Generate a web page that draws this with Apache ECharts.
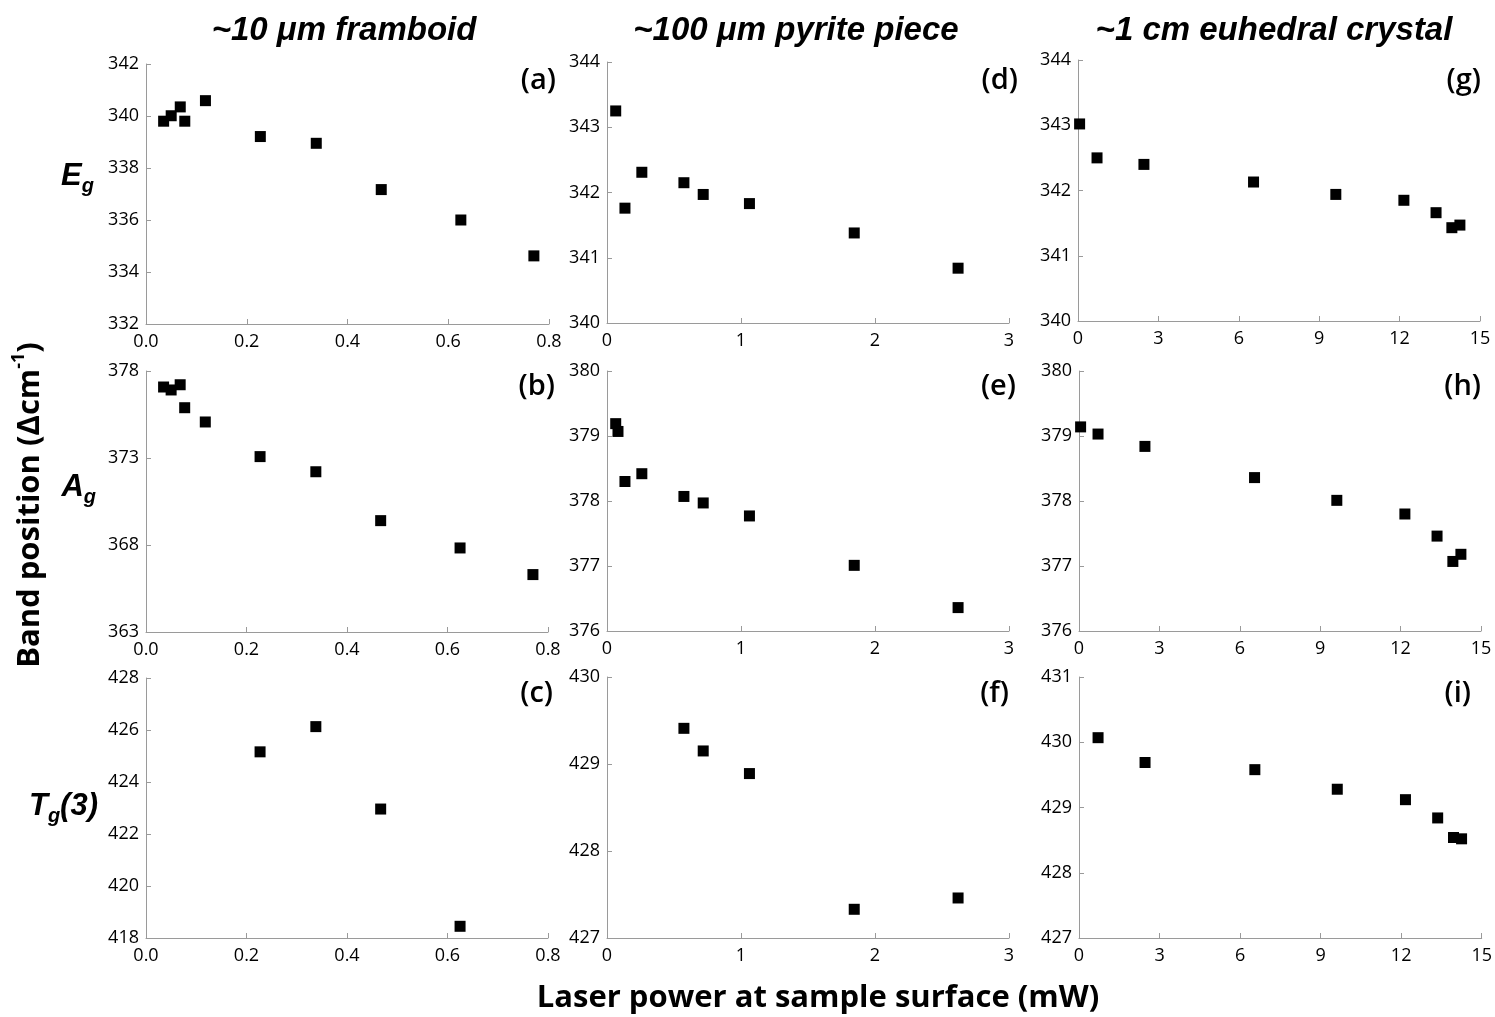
<!DOCTYPE html>
<html>
<head>
<meta charset="utf-8">
<title>Band position vs laser power</title>
<script src="https://cdn.jsdelivr.net/npm/echarts@6/dist/echarts.min.js"></script>
<style>
  html, body { margin: 0; padding: 0; background: #fff; }
  #chart { width: 1495px; height: 1017px; }
</style>
</head>
<body>
<div id="chart"></div>
<script>
// ---- ~10 µm framboid ----
const framboidPower = [0.035, 0.050, 0.068, 0.077, 0.118, 0.227, 0.338, 0.467, 0.625, 0.770];
const framboidEg = [339.80, 340.01, 340.35, 339.80, 340.59, 339.21, 338.95, 337.17, 336.00, 334.62];
const framboidAg = [377.08, 376.91, 377.21, 375.89, 375.07, 373.08, 372.21, 369.40, 367.83, 366.30];
const framboidTgPower = [0.227, 0.338, 0.467, 0.625];
const framboidTg = [425.16, 426.13, 422.96, 418.45];

// ---- ~100 µm pyrite piece ----
const piecePowerEg = [0.065, 0.134, 0.260, 0.574, 0.718, 1.063, 1.845, 2.620];
const pieceEg = [343.25, 341.76, 342.31, 342.15, 341.97, 341.83, 341.38, 340.84];
const piecePowerAg = [0.065, 0.082, 0.134, 0.260, 0.574, 0.718, 1.063, 1.845, 2.620];
const pieceAg = [379.19, 379.07, 378.30, 378.42, 378.07, 377.97, 377.77, 377.01, 376.36];
const piecePowerTg = [0.574, 0.718, 1.063, 1.845, 2.620];
const pieceTg = [429.41, 429.15, 428.89, 427.33, 427.46];

// ---- ~1 cm euhedral crystal ----
const crystalPower = [0.06, 0.71, 2.46, 6.55, 9.62, 12.16, 13.36, 13.95, 14.25];
const crystalEg = [343.02, 342.50, 342.40, 342.13, 341.94, 341.85, 341.66, 341.43, 341.47];
const crystalAg = [379.14, 379.03, 378.84, 378.36, 378.01, 377.80, 377.46, 377.07, 377.18];
const crystalTgPower = [0.71, 2.46, 6.55, 9.62, 12.16, 13.36, 13.95, 14.25];
const crystalTg = [430.07, 429.69, 429.58, 429.28, 429.12, 428.84, 428.54, 428.52];

// ---- axis ranges / ticks ----
const framboidXTicks = [0, 0.2, 0.4, 0.6, 0.8];
const pieceXTicks = [0, 1, 2, 3];
const crystalXTicks = [0, 3, 6, 9, 12, 15];
const yTicksA = [332, 334, 336, 338, 340, 342];
const yTicksB = [363, 368, 373, 378];
const yTicksC = [418, 420, 422, 424, 426, 428];
const yTicksD = [340, 341, 342, 343, 344];
const yTicksE = [376, 377, 378, 379, 380];
const yTicksF = [427, 428, 429, 430];
const yTicksG = [340, 341, 342, 343, 344];
const yTicksH = [376, 377, 378, 379, 380];
const yTicksI = [427, 428, 429, 430, 431];

const columnTitles = ['~10 μm framboid', '~100 μm pyrite piece', '~1 cm euhedral crystal'];
const panelLetters = ['(a)', '(b)', '(c)', '(d)', '(e)', '(f)', '(g)', '(h)', '(i)'];

const zip = (xs, ys) => xs.map((x, i) => [x, ys[i]]);

// panel list: data, x ticks, y ticks, x label formatter, grid rectangle
const panels = [
  { data: zip(framboidPower, framboidEg), xt: framboidXTicks, yt: yTicksA, fmt: v => v.toFixed(1), rect: [146, 64, 403, 260] },
  { data: zip(framboidPower, framboidAg), xt: framboidXTicks, yt: yTicksB, fmt: v => v.toFixed(1), rect: [146, 371, 402, 261] },
  { data: zip(framboidTgPower, framboidTg), xt: framboidXTicks, yt: yTicksC, fmt: v => v.toFixed(1), rect: [146, 678, 402, 260] },
  { data: zip(piecePowerEg, pieceEg), xt: pieceXTicks, yt: yTicksD, fmt: v => String(v), rect: [607, 62, 402, 261] },
  { data: zip(piecePowerAg, pieceAg), xt: pieceXTicks, yt: yTicksE, fmt: v => String(v), rect: [607, 371, 402, 260] },
  { data: zip(piecePowerTg, pieceTg), xt: pieceXTicks, yt: yTicksF, fmt: v => String(v), rect: [607, 677, 402, 261] },
  { data: zip(crystalPower, crystalEg), xt: crystalXTicks, yt: yTicksG, fmt: v => String(v), rect: [1078, 60, 402, 261] },
  { data: zip(crystalPower, crystalAg), xt: crystalXTicks, yt: yTicksH, fmt: v => String(v), rect: [1079, 371, 402, 260] },
  { data: zip(crystalTgPower, crystalTg), xt: crystalXTicks, yt: yTicksI, fmt: v => String(v), rect: [1079, 677, 403, 261] }
];

const axisGray = '#9a9a9a';
const tickFont = { fontFamily: '"Open Sans", sans-serif', fontSize: 18, color: '#000' };

const grids = [], xAxes = [], yAxes = [], series = [];
panels.forEach((p, i) => {
  const [l, t, w, h] = p.rect;
  grids.push({ left: l, top: t, width: w, height: h, containLabel: false });
  xAxes.push({
    type: 'value', gridIndex: i,
    min: p.xt[0], max: p.xt[p.xt.length - 1],
    axisLine: { show: true, onZero: false, lineStyle: { color: axisGray, width: 1 } },
    axisTick: { show: true, inside: true, length: 5, lineStyle: { color: axisGray }, customValues: p.xt },
    axisLabel: Object.assign({ margin: 9, customValues: p.xt, formatter: p.fmt, showMinLabel: true, showMaxLabel: true }, tickFont),
    splitLine: { show: false }
  });
  yAxes.push({
    type: 'value', gridIndex: i,
    min: p.yt[0], max: p.yt[p.yt.length - 1],
    axisLine: { show: true, onZero: false, lineStyle: { color: axisGray, width: 1 } },
    axisTick: { show: true, inside: true, length: 5, lineStyle: { color: axisGray }, customValues: p.yt },
    axisLabel: Object.assign({ margin: 7, customValues: p.yt, showMinLabel: true, showMaxLabel: true }, tickFont),
    splitLine: { show: false }
  });
  series.push({
    type: 'scatter', xAxisIndex: i, yAxisIndex: i,
    symbol: 'rect', symbolSize: 11,
    itemStyle: { color: '#000', opacity: 1 },
    data: p.data, clip: false, silent: true
  });
});

// text decorations: column headers, panel letters, row labels, axis titles
const graphics = [];
const headerCenters = [344, 796, 1274];
columnTitles.forEach((txt, k) => {
  graphics.push({
    type: 'text', x: headerCenters[k], y: 31,
    style: { text: txt, font: 'italic bold 33px "Liberation Sans", sans-serif', fill: '#000', align: 'center', verticalAlign: 'middle' }
  });
});

const letterPos = [[556, 81], [555, 387], [553, 694], [1018, 81], [1016, 387], [1009, 694], [1481, 81], [1481, 387], [1471, 694]];
panelLetters.forEach((txt, k) => {
  graphics.push({
    type: 'text', x: letterPos[k][0], y: letterPos[k][1],
    style: { text: txt, font: '600 29px "Open Sans", sans-serif', fill: '#000', align: 'right', verticalAlign: 'middle' }
  });
});

const rowRich = {
  m: { fontFamily: '"Liberation Sans", sans-serif', fontWeight: 'bold', fontStyle: 'italic', fontSize: 31, lineHeight: 40, fill: '#000' },
  s: { fontFamily: '"Liberation Sans", sans-serif', fontWeight: 'bold', fontStyle: 'italic', fontSize: 20, lineHeight: 20, verticalAlign: 'bottom', fill: '#000' }
};
const rowLabels = [
  { text: '{m|E}{s|g}', x: 94, y: 176 },
  { text: '{m|A}{s|g}', x: 96, y: 487 },
  { text: '{m|T}{s|g}{m|(3)}', x: 98, y: 806 }
];
rowLabels.forEach(r => {
  graphics.push({
    type: 'text', x: r.x, y: r.y,
    style: { text: r.text, rich: rowRich, align: 'right', verticalAlign: 'middle' }
  });
});

graphics.push({
  type: 'text', x: 818, y: 998,
  style: { text: 'Laser power at sample surface (mW)', font: 'bold 31px "Open Sans", sans-serif', fill: '#000', align: 'center', verticalAlign: 'middle' }
});
graphics.push({
  type: 'text', x: 30, y: 505, rotation: Math.PI / 2,
  style: {
    text: '{m|Band position (Δcm}{p|-1}{m|)}',
    rich: {
      m: { fontFamily: '"Open Sans", sans-serif', fontWeight: 'bold', fontSize: 31, lineHeight: 40, fill: '#000' },
      p: { fontFamily: '"Open Sans", sans-serif', fontWeight: 'bold', fontSize: 18, lineHeight: 22, verticalAlign: 'top', fill: '#000' }
    },
    align: 'center', verticalAlign: 'middle'
  }
});

const chart = echarts.init(document.getElementById('chart'), null, { renderer: 'canvas' });
chart.setOption({
  animation: false,
  backgroundColor: '#fff',
  grid: grids,
  xAxis: xAxes,
  yAxis: yAxes,
  series: series,
  graphic: graphics
});
</script>
</body>
</html>
